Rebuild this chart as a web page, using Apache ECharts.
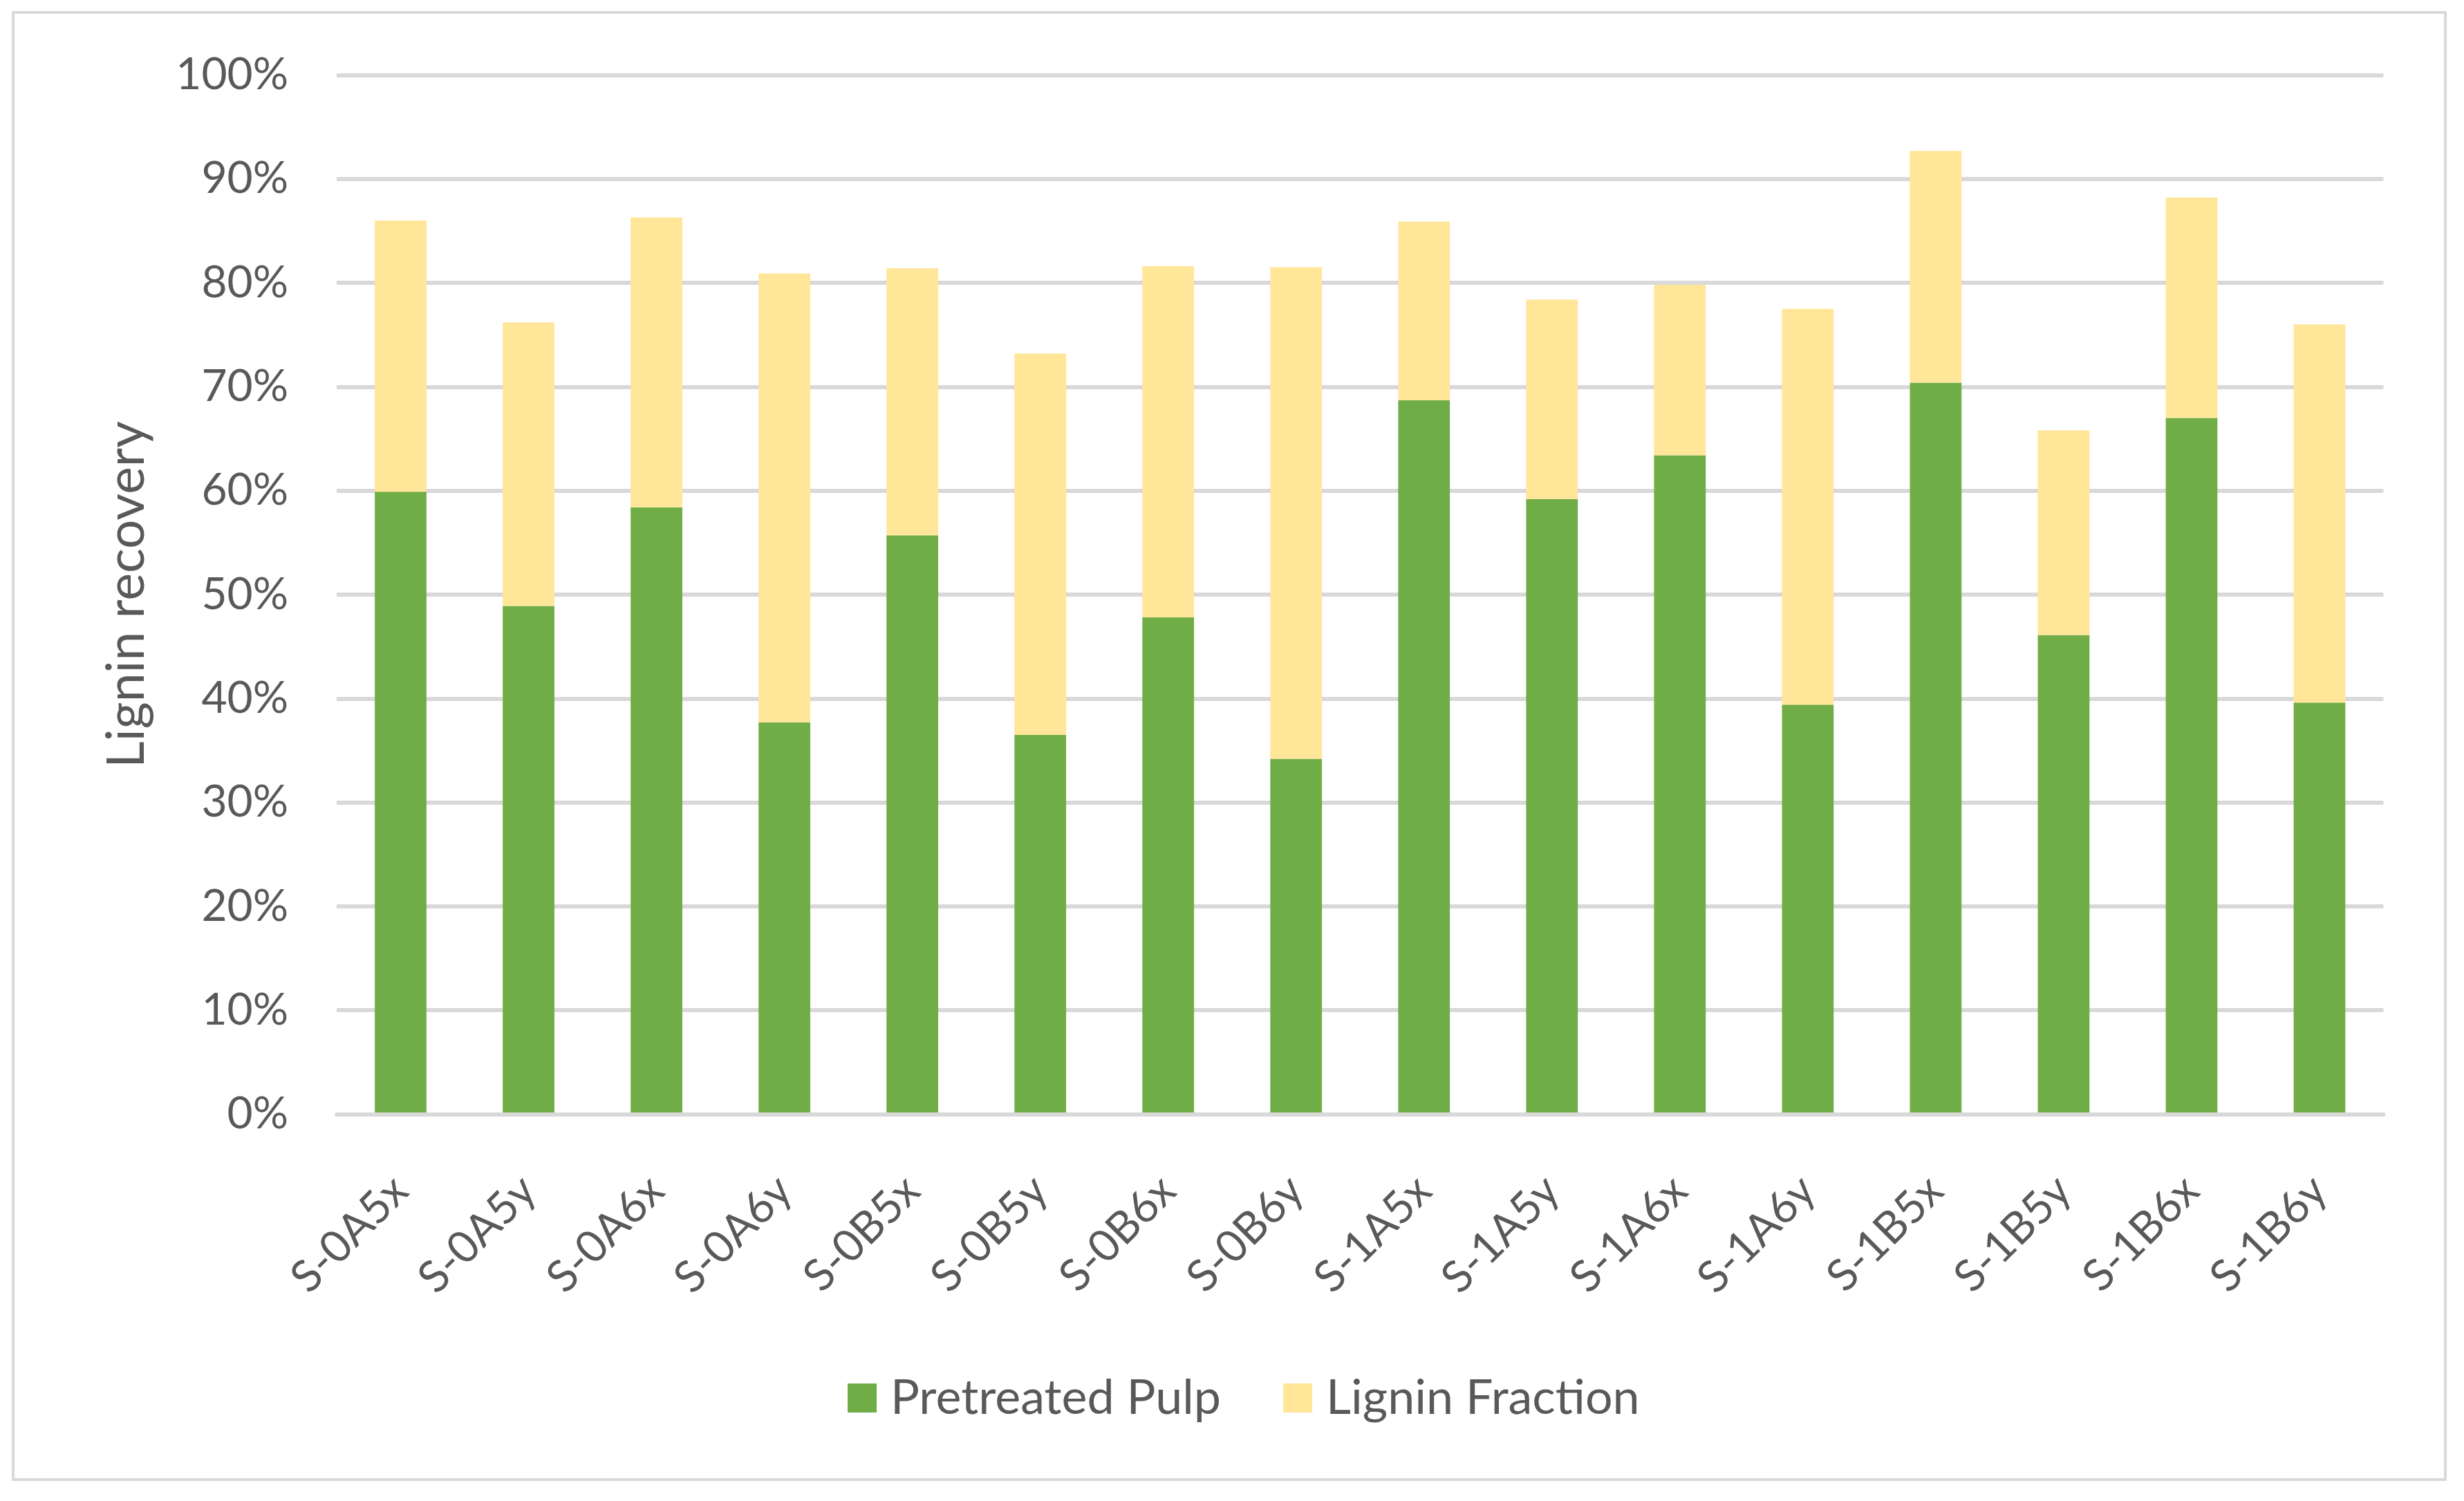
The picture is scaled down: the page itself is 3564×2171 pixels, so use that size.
<!DOCTYPE html>
<html>
<head>
<meta charset="utf-8">
<script src="https://cdn.jsdelivr.net/npm/echarts@6/dist/echarts.min.js"></script>
<style>
html,body{margin:0;padding:0;background:#fff;}
#c{width:3564px;height:2171px;}
</style>
</head>
<body>
<div id="c"></div>
<script>
const categories = ['S-0A5x','S-0A5y','S-0A6x','S-0A6y','S-0B5x','S-0B5y','S-0B6x','S-0B6y','S-1A5x','S-1A5y','S-1A6x','S-1A6y','S-1B5x','S-1B5y','S-1B6x','S-1B6y'];
const pretreatedPulp = [59.9,48.9,58.4,37.7,55.7,36.5,47.8,34.2,68.7,59.2,63.4,39.4,70.4,46.1,67.0,39.6];
const ligninFraction = [26.1,27.3,27.9,43.2,25.7,36.7,33.8,47.3,17.2,19.2,16.4,38.1,22.3,19.7,21.2,36.4];
const seriesNames = ['Pretreated Pulp','Lignin Fraction'];
const yAxisTitle = 'Lignin recovery';

const FONT = 'Lato, "Open Sans", sans-serif';
const TXT = '#595959';
const chart = echarts.init(document.getElementById('c'), null, {renderer:'canvas'});
chart.setOption({
  animation:false,
  backgroundColor:'#ffffff',
  graphic:[{type:'rect',shape:{x:19,y:18,width:3518,height:2122},style:{fill:'none',stroke:'#d9d9d9',lineWidth:4},silent:true}],
  grid:{left:487,right:116.5,top:108.5,bottom:559.5,containLabel:false},
  legend:{
    data:seriesNames,left:1221,top:1982,itemWidth:42,itemHeight:42,itemGap:90,icon:'rect',
    textStyle:{fontFamily:FONT,fontSize:70,color:TXT,lineHeight:70,padding:[0,0,0,15]}
  },
  xAxis:{
    type:'category',data:categories,z:3,
    axisLine:{lineStyle:{color:'#d9d9d9',width:6}},
    axisTick:{show:false},
    axisLabel:{rotate:45,margin:100,fontFamily:FONT,fontSize:64,color:TXT,interval:0}
  },
  yAxis:{
    type:'value',min:0,max:100,interval:10,
    name:yAxisTitle,nameLocation:'middle',nameRotate:90,nameGap:266,
    nameTextStyle:{fontFamily:FONT,fontSize:75,color:TXT,lineHeight:75},
    axisLine:{show:false},axisTick:{show:false},
    axisLabel:{formatter:'{value}%',margin:70,fontFamily:FONT,fontSize:64,color:TXT},
    splitLine:{lineStyle:{color:'#d9d9d9',width:6}}
  },
  series:[
    {name:seriesNames[0],type:'bar',stack:'t',data:pretreatedPulp,barWidth:'40.4%',itemStyle:{color:'#70AD47'}},
    {name:seriesNames[1],type:'bar',stack:'t',data:ligninFraction,barWidth:'40.4%',itemStyle:{color:'#FFE699'}}
  ]
});
</script>
</body>
</html>
